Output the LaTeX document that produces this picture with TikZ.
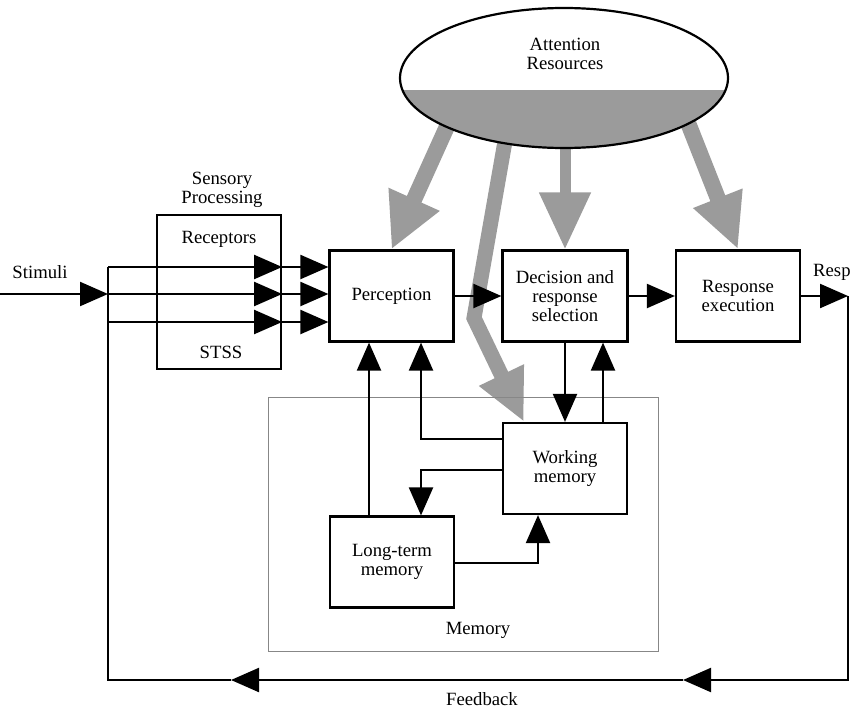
\documentclass[tikz,border=0pt]{standalone}
\usepackage{fontspec}
\setmainfont{Liberation Serif}
\usetikzlibrary{arrows.meta,shapes.geometric,calc}
\definecolor{attgray}{RGB}{155,155,155}
\definecolor{memgray}{RGB}{135,135,135}
\begin{document}
\begin{tikzpicture}[x=1pt,y=-1pt,
  every node/.style={align=center,font=\fontsize{18.7}{19}\selectfont},
  box/.style={draw,line width=2.2pt,fill=white,minimum width=124pt,minimum height=91pt,inner sep=0pt},
  blk/.style={line width=2.2pt,-{Triangle[length=28pt,width=24pt]}},
  plainline/.style={line width=2.2pt},
  gry/.style={draw=attgray}]
\useasboundingbox (0,0) rectangle (850,712);

% boxes
\node[box] (perc) at (391.5,296) {Perception};
\node[box,minimum width=125pt] (dec) at (565,296) {Decision and\\response\\selection};
\node[box] (resp) at (738,296) {Response\\execution};
\node[box] (wm) at (565,468.5) {Working\\memory};
\node[box] (ltm) at (392,562) {Long-term\\memory};
\node[box,minimum height=154pt] (sens) at (219,292) {};
\node (rec) at (219,239) {Receptors};
\node (stss) at (221,352) {STSS};
\node (senst) at (222,190) {Sensory\\Processing};

% attention arrows
\coordinate (g1) at (459,100);
\coordinate (g2) at (507,130);
\coordinate (g2b) at (474,318);
\coordinate (g3) at (565,100);
\coordinate (g4) at (679,100);
\draw[gry,line width=16pt,-{Triangle[length=55pt,width=52pt]}] (g1) -- (perc.north);
\draw[gry,line width=15pt,-{Triangle[length=52pt,width=46pt]}] (g2) -- (g2b) -- ([xshift=22pt]wm.north west);
\draw[gry,line width=11pt,-{Triangle[length=57pt,width=49pt]}] (g3) -- (dec.north);
\draw[gry,line width=16pt,-{Triangle[length=55pt,width=49pt]}] (g4) -- (resp.north);

% attention ellipse
\node[draw,line width=2.2pt,ellipse,minimum width=328pt,minimum height=140pt,inner sep=0pt,fill=white,
  path picture={\fill[attgray] ([yshift=-12pt]path picture bounding box.west) rectangle (path picture bounding box.south east);}]
  (att) at (564,78) {};
\node (attt) at (565,54) {Attention\\Resources};

% memory frame
\node[draw=memgray,line width=1pt,minimum width=390pt,minimum height=254pt,inner sep=0pt] (mem) at (463,524) {};
\node (memt) at (478,630) {Memory};

% stimuli and feedback
\coordinate (st) at (0,294);
\coordinate (ja) at (108,267);
\coordinate (jb) at (108,294);
\coordinate (jc) at (108,322);
\coordinate (rr) at (848,296);
\coordinate (fbR) at (848,680);
\coordinate (fa1) at (683,680);
\coordinate (fa2) at (231,680);
\coordinate (fbL) at (108,680);
\node (stim) at (40,272) {Stimuli};
\node[anchor=west,inner sep=0pt] (respt) at (813,272) {Resp};
\node (fbt) at (482,699) {Feedback};

\draw[blk] (st) -- (jb);
\draw[plainline] (fa2) -- (fbL) -- (ja);
\foreach \j in {ja,jb,jc}{
  \draw[blk] (\j) -- (\j -| sens.east);
  \draw[blk] (\j -| sens.east) -- (\j -| perc.west);
}
\draw[blk] (perc.east) -- (dec.west);
\draw[blk] (dec.east) -- (resp.west);
\draw[blk] (resp.east) -- (rr);
\draw[blk] (rr) -- (fbR) -- (fa1);
\draw[blk] (fa1) -- (fa2);

% memory connections
\coordinate (wa) at (421,439);
\coordinate (wb) at (421,470);
\coordinate (wc) at (538,563);
\draw[blk] ([xshift=-23pt]ltm.north) -- ([xshift=-23pt]ltm.north |- perc.south);
\draw[blk] (wm.west |- wa) -- (wa) -- (wa |- perc.south);
\draw[blk] (wm.west |- wb) -- (wb) -- (wb |- ltm.north);
\draw[blk] (ltm.east |- wc) -- (wc) -- (wc |- wm.south);
\draw[blk] (dec.south) -- (wm.north);
\draw[blk] ([xshift=38pt]wm.north) -- ([xshift=38pt]dec.south);
\end{tikzpicture}
\end{document}
